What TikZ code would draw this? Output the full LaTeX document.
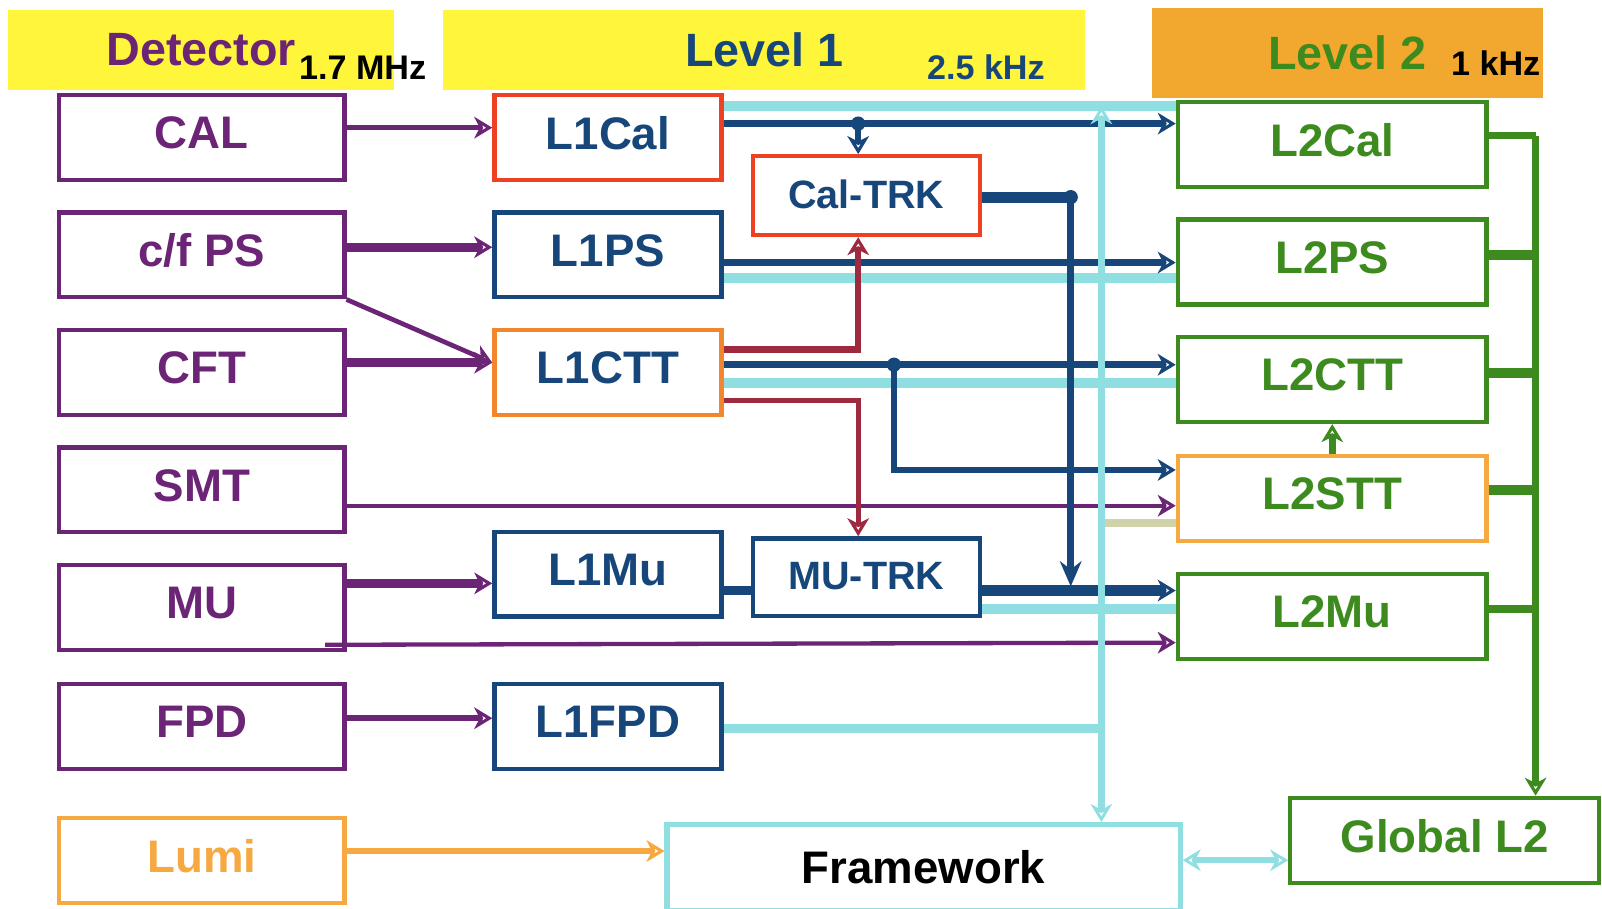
\documentclass[tikz,border=0pt]{standalone}
\usepackage{fontspec}
\setmainfont{Liberation Sans}
\usetikzlibrary{arrows.meta}
\definecolor{detpurple}{HTML}{6C2476}
\definecolor{lnavy}{HTML}{17467A}
\definecolor{calred}{HTML}{EE4023}
\definecolor{cttorange}{HTML}{F1862F}
\definecolor{sttorange}{HTML}{F6A841}
\definecolor{ltgreen}{HTML}{3D8B1E}
\definecolor{fwcyan}{HTML}{8FDFE2}
\definecolor{bandyellow}{HTML}{FFF53B}
\definecolor{bandorange}{HTML}{F2A72E}
\definecolor{trkred}{HTML}{9E2A3F}
\definecolor{khaki}{HTML}{D0D2AA}
\begin{document}
\begin{tikzpicture}[x=0.01cm,y=-0.01cm,
  lbl/.style={font=\bfseries\fontsize{12.7}{15}\selectfont},
  rate/.style={font=\bfseries\fontsize{9.5}{11}\selectfont},
  band/.style={lbl,inner sep=0pt,font=\bfseries\fontsize{13}{15}\selectfont},
  box/.style={lbl,draw,line width=1.2pt,fill=white,inner sep=0pt,minimum height=0.83cm},
  detbox/.style={box,minimum width=2.79cm,draw=detpurple,text=detpurple,text depth=0.09cm},
  lonebox/.style={box,minimum width=2.22cm,text=lnavy,text depth=0.09cm},
  trkbox/.style={lonebox,minimum height=0.77cm,text depth=0.02cm,font=\bfseries\fontsize{11}{13}\selectfont},
  ltwobox/.style={box,minimum width=3.02cm,draw=ltgreen,text=ltgreen,text depth=0.09cm},
  tip/.style={-{Stealth[open,length=5pt,width=6pt,inset=1.5pt,line width=0.9pt]}},
  ptip/.style={tip,draw=detpurple},
  ntip/.style={tip,draw=lnavy},
  rtip/.style={tip,draw=trkred},
  gline/.style={draw=ltgreen},
  cline/.style={draw=fwcyan}]
\useasboundingbox (0,0) rectangle (1568,889);

% header bands
\node[band,fill=bandyellow,text=detpurple,minimum width=3.78cm,minimum height=0.78cm] (hdet) at (197,49) {Detector};
\node[band,fill=bandyellow,text=lnavy,minimum width=6.28cm,minimum height=0.78cm] (hlone) at (748,49) {Level 1};
\node[band,fill=bandorange,text=ltgreen,minimum width=3.82cm,minimum height=0.88cm] (hltwo) at (1319,52) {Level 2};
\node[rate] (rdet) at (355,66) {1.7 MHz};
\node[rate,text=lnavy] (rlone) at (965,66) {2.5 kHz};
\node[rate] (rltwo) at (1464,62) {1 kHz};

% detector front ends
\node[detbox] (CAL) at (197.5,134.5) {CAL};
\node[detbox] (CPS) at (197.5,249.5) {c/f PS};
\node[detbox] (CFT) at (197.5,364.5) {CFT};
\node[detbox] (SMT) at (197.5,479.5) {SMT};
\node[detbox] (MU) at (197.5,594.5) {MU};
\node[detbox] (FPD) at (197.5,711) {FPD};
\node[detbox,draw=sttorange,text=sttorange] (Lumi) at (197.5,842) {Lumi};

% level 1
\node[lonebox,draw=calred] (L1Cal) at (595,134.5) {L1Cal};
\node[lonebox,draw=lnavy] (L1PS) at (595,249.5) {L1PS};
\node[lonebox,draw=cttorange] (L1CTT) at (595,364.5) {L1CTT};
\node[lonebox,draw=lnavy] (L1Mu) at (595,562) {L1Mu};
\node[lonebox,draw=lnavy] (L1FPD) at (595,711) {L1FPD};
\node[trkbox,draw=calred] (CalTRK) at (848,191.5) {Cal-TRK};
\node[trkbox,draw=lnavy,minimum height=0.76cm] (MUTRK) at (848,565) {MU-TRK};

% level 2
\node[ltwobox] (L2Cal) at (1304,141.5) {L2Cal};
\node[ltwobox] (L2PS) at (1304,256.5) {L2PS};
\node[ltwobox] (L2CTT) at (1304,371.5) {L2CTT};
\node[ltwobox,draw=sttorange] (L2STT) at (1304,488) {L2STT};
\node[ltwobox] (L2Mu) at (1304,603.5) {L2Mu};
\node[ltwobox] (GL2) at (1414,822.5) {Global L2};
\node[box,draw=fwcyan,line width=1.4pt,minimum width=5.02cm,minimum height=0.84cm] (FW) at (904,849) {Framework};

\coordinate (j1) at (840,121);
\coordinate (j2) at (1048,193);
\coordinate (j3) at (875,357);
\coordinate (fw) at (1078,104);
\coordinate (bus) at (1503,133);

% detector -> level 1
\draw[ptip,line width=1.4pt] (CAL.east |- 0,125) -- (L1Cal.west |- 0,125);
\draw[ptip,line width=2.6pt] (CPS.east |- 0,242) -- (L1PS.west |- 0,242);
\draw[ptip,line width=1.3pt] (CPS.south east) -- (L1CTT.west |- 0,355);
\draw[ptip,line width=2.6pt] (CFT.east |- 0,355) -- (L1CTT.west |- 0,355);
\draw[ptip,line width=1.2pt] (SMT.east |- 0,495) -- (L2STT.west |- 0,495);
\draw[ptip,line width=2.6pt] (MU.east |- 0,571) -- (L1Mu.west |- 0,571);
\draw[ptip,line width=1.2pt] ([xshift=-0.21cm,yshift=0.07cm]MU.south east) -- (L2Mu.west |- 0,629);
\draw[ptip,line width=1.8pt] (FPD.east |- 0,703) -- (L1FPD.west |- 0,703);
\draw[tip,draw=sttorange,line width=1.8pt] (Lumi.east |- 0,833) -- (FW.west |- 0,833);

% framework lines
\draw[cline,line width=2.8pt] (L1Cal.east |- fw) -- (L2Cal.west |- fw);
\draw[cline,line width=2.6pt] (L1PS.east |- 0,272) -- (L2PS.west |- 0,272);
\draw[cline,line width=2.6pt] (L1CTT.east |- 0,375) -- (L2CTT.west |- 0,375);
\draw[cline,line width=2.6pt] (MUTRK.east |- 0,596) -- (L2Mu.west |- 0,596);
\draw[cline,line width=2.6pt] (L1FPD.east |- 0,713) -- (fw |- 0,713);
\draw[khaki,line width=2.4pt] (fw |- 0,512) -- (L2STT.west |- 0,512);

% level 1 -> level 2
\draw[ntip,line width=2pt] (L1Cal.east |- j1) -- (L2Cal.west |- j1);
\fill[lnavy] (j1) circle (7);
\draw[ntip,line width=1.8pt] (j1) -- (j1 |- CalTRK.north);
\draw[lnavy,line width=3pt] (CalTRK.east |- j2) -- (j2);
\fill[lnavy] (j2) circle (7);
\draw[lnavy,line width=1.8pt,-{Stealth[length=7pt,width=6pt]}] (j2) -- (j2 |- 0,574);
\draw[ntip,line width=1.8pt] (L1PS.east |- 0,257) -- (L2PS.west |- 0,257);
\draw[ntip,line width=2pt] (L1CTT.east |- j3) -- (L2CTT.west |- j3);
\fill[lnavy] (j3) circle (7);
\draw[ntip,line width=1.8pt] (j3) |- (L2STT.west |- 0,460);
\draw[lnavy,line width=2.6pt] (L1Mu.east |- 0,578) -- (MUTRK.west |- 0,578);
\draw[ntip,line width=3pt] (MUTRK.east |- 0,578) -- (L2Mu.west |- 0,578);
\draw[rtip,line width=1.8pt] (L1CTT.east |- 0,342) -| (j1 |- CalTRK.south);
\draw[rtip,line width=1.4pt] (L1CTT.east |- 0,392) -| (j1 |- MUTRK.north);

\draw[cline,line width=1.8pt,{Stealth[open,length=5pt,width=6pt,line width=0.8pt]}-{Stealth[open,length=5pt,width=6pt,line width=0.8pt]}] (fw) -- (fw |- FW.north);
\draw[cline,line width=1.8pt,{Stealth[open,length=5pt,width=6pt,line width=0.8pt]}-{Stealth[open,length=5pt,width=6pt,line width=0.8pt]}] (FW.east |- 0,842) -- (GL2.west |- 0,842);

% level 2 -> global
\draw[gline,line width=2pt] (L2Cal.east |- bus) -- (bus);
\draw[gline,line width=2.8pt] (L2PS.east |- 0,250) -- (bus |- 0,250);
\draw[gline,line width=2.8pt] (L2CTT.east |- 0,365) -- (bus |- 0,365);
\draw[gline,line width=2.8pt] (L2STT.east |- 0,480) -- (bus |- 0,480);
\draw[gline,line width=2pt] (L2Mu.east |- 0,596) -- (bus |- 0,596);
\draw[tip,gline,line width=1.8pt] (bus) -- (bus |- GL2.north);
\draw[tip,gline,line width=2pt] (L2STT.north) -- (L2CTT.south);
\end{tikzpicture}
\end{document}
